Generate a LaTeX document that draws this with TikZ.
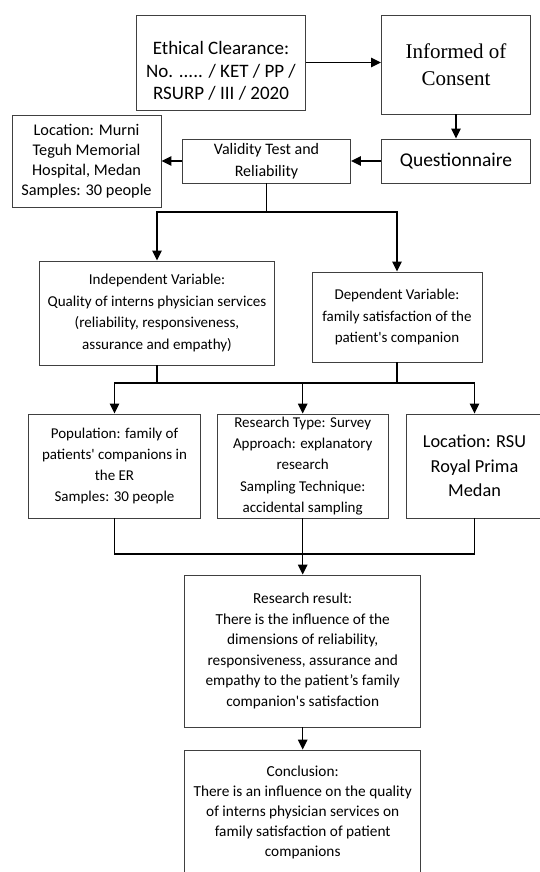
\documentclass[tikz,border=0pt]{standalone}
\usepackage{fontspec}
\setmainfont{Carlito}
\newfontfamily\timesfont{Liberation Serif}
\usepackage{xcolor}
\definecolor{boxgray}{RGB}{64,64,64}
\usetikzlibrary{arrows.meta, positioning, calc}

\begin{document}
\begin{tikzpicture}[x=1pt, y=-1pt,
    box/.style={draw=boxgray, line width=0.9pt, align=center, inner sep=1pt},
    conn/.style={line width=1.4pt},
    arr/.style={conn, -{Triangle[length=10pt, width=9.5pt]}}]
  \useasboundingbox (0,0) rectangle (540,872);
  % Ethics and consent at top
  \node[box, minimum width=169pt, minimum height=95pt, font=\fontsize{19}{22.5}\selectfont]
        (ethic) at (221,62.5) {\rule{0pt}{30pt}Ethical Clearance:\\No. ..... / KET / PP /\\RSURP / III / 2020};
  \node[box, minimum width=149pt, minimum height=99pt, font=\timesfont\fontsize{21}{27}\selectfont]
        (inform) at (456,64.5) {Informed of\\Consent};
  % Questionnaire and validity row
  \node[box, minimum width=149pt, minimum height=44pt, font=\fontsize{19.5}{23}\selectfont]
        (quest) at (456,161) {Questionnaire};
  \node[box, minimum width=168pt, minimum height=44pt, font=\fontsize{16}{21.5}\selectfont]
        (valid) at (266.5,161) {Validity Test and\\Reliability};
  \node[box, minimum width=149pt, minimum height=92pt, font=\fontsize{16.3}{19.8}\selectfont]
        (loc1) at (86.5,161) {Location: Murni\\Teguh Memorial\\Hospital, Medan\\Samples: 30 people};
  \draw[arr] (ethic.east) -- (ethic.east -| inform.west);
  \draw[arr] (inform.south) -- (quest.north);
  \draw[arr] (quest.west) -- (valid.east);
  \draw[arr] (valid.west) -- (loc1.east);
  % Variables
  \node[box, minimum width=235pt, minimum height=104pt, font=\fontsize{15.1}{21.5}\selectfont]
        (indep) at (157,313) {Independent Variable:\\Quality of interns physician services\\(reliability, responsiveness,\\assurance and empathy)};
  \node[box, minimum width=170pt, minimum height=90pt, font=\fontsize{15}{21.5}\selectfont]
        (dep) at (397,317) {Dependent Variable:\\family satisfaction of the\\patient\textquotesingle s companion};
  \coordinate (hub1) at (266.5,212);
  \draw[conn] (valid.south) -- (hub1);
  \draw[arr] (hub1) -| (indep.north);
  \draw[arr] (hub1) -| (dep.north);
  % Population, method, location
  \node[box, minimum width=172pt, minimum height=104pt, font=\fontsize{15}{21.2}\selectfont]
        (popul) at (114.5,466) {Population: family of\\patients\textquotesingle\ companions in\\the ER\\Samples: 30 people};
  \node[box, minimum width=171pt, minimum height=104pt, inner sep=0pt, font=\fontsize{15}{21.3}\selectfont]
        (rtype) at (302.7,466) {Research Type: Survey\\Approach: explanatory\\research\\Sampling Technique:\\accidental sampling};
  \node[box, minimum width=137pt, minimum height=104pt, font=\fontsize{18.3}{24.5}\selectfont]
        (loc2) at (474.5,466) {Location: RSU\\Royal Prima\\Medan};
  \coordinate (hub2) at (302.7,383);
  \draw[conn] (indep.south) |- (hub2);
  \draw[conn] (dep.south) |- (hub2);
  \draw[arr] (hub2) -| (popul.north);
  \draw[arr] (hub2) -- (rtype.north);
  \draw[arr] (hub2) -| (loc2.north);
  % Result and conclusion
  \node[box, minimum width=236pt, minimum height=152pt, font=\fontsize{15.3}{20.5}\selectfont]
        (result) at (302.7,651) {Research result:\\There is the influence of the\\dimensions of reliability,\\responsiveness, assurance and\\empathy to the patient's family\\companion\textquotesingle s satisfaction};
  \node[box, minimum width=236pt, minimum height=124pt, font=\fontsize{15.3}{20}\selectfont]
        (concl) at (302.7,812) {Conclusion:\\There is an influence on the quality\\of interns physician services on\\family satisfaction of patient\\companions};
  \coordinate (hub3) at (302.7,554);
  \draw[conn] (popul.south) |- (hub3);
  \draw[conn] (loc2.south) |- (hub3);
  \draw[arr] (rtype.south) -- (result.north);
  \draw[arr] (result.south) -- (concl.north);
\end{tikzpicture}
\end{document}
